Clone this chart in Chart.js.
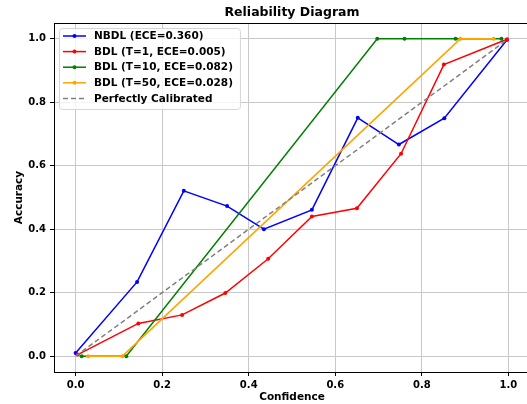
<!DOCTYPE html>
<html>
<head>
<meta charset="utf-8">
<script src="https://cdn.jsdelivr.net/npm/chart.js@4"></script>
<style>
  html, body { margin: 0; padding: 0; background: #fff; overflow: hidden; }
  #wrap { position: relative; width: 534px; height: 404px; }
</style>
</head>
<body>
<div id="wrap"><canvas id="reliabilityChart"></canvas></div>
<script>
// values
const xTicks = [0.0, 0.2, 0.4, 0.6, 0.8, 1.0];
const yTicks = [0.0, 0.2, 0.4, 0.6, 0.8, 1.0];

const nbdlConf = [0.0, 0.142, 0.250, 0.350, 0.435, 0.546, 0.652, 0.747, 0.852, 0.997];
const nbdlAcc = [0.010, 0.234, 0.521, 0.473, 0.400, 0.461, 0.751, 0.667, 0.750, 0.997];

const bdl1Conf = [0.005, 0.145, 0.246, 0.346, 0.445, 0.546, 0.650, 0.752, 0.851, 0.997];
const bdl1Acc = [0.005, 0.103, 0.130, 0.199, 0.307, 0.440, 0.466, 0.638, 0.919, 0.999];

const bdl10Conf = [0.014, 0.117, 0.697, 0.760, 0.878, 0.984];
const bdl10Acc = [0.0, 0.0, 1.0, 1.0, 1.0, 1.0];

const bdl50Conf = [0.029, 0.108, 0.889, 0.966];
const bdl50Acc = [0.0, 0.0, 1.0, 1.0];

const perfectConf = [0.0, 1.0];
const perfectAcc = [0.0, 1.0];

const FONT = "'DejaVu Sans', sans-serif";

function pts(xs, ys) {
  return xs.map((x, i) => ({ x: x, y: ys[i] }));
}

function series(label, xs, ys, color, order) {
  return {
    label: label,
    data: pts(xs, ys),
    borderColor: color,
    backgroundColor: color,
    borderWidth: 1.5,
    pointRadius: 2,
    pointBorderWidth: 0,
    pointBackgroundColor: color,
    fill: false,
    tension: 0,
    order: order,
  };
}

// title, top spine and the in-plot legend, matplotlib style
const decorPlugin = {
  id: "decor",
  afterDraw(chart) {
    const ctx = chart.ctx;
    const area = chart.chartArea;
    ctx.save();

    // top spine
    ctx.strokeStyle = "#000";
    ctx.lineWidth = 1;
    ctx.beginPath();
    ctx.moveTo(area.left, area.top + 0.5);
    ctx.lineTo(area.right, area.top + 0.5);
    ctx.stroke();

    // title
    ctx.fillStyle = "#000";
    ctx.font = "bold 12.5px " + FONT;
    ctx.textAlign = "center";
    ctx.textBaseline = "middle";
    ctx.fillText("Reliability Diagram", (area.left + area.right) / 2, 12.5);

    // legend
    const sets = chart.data.datasets;
    ctx.font = "bold 10.5px " + FONT;
    let maxW = 0;
    sets.forEach(ds => { maxW = Math.max(maxW, ctx.measureText(ds.label).width); });
    const bx = area.left + 5, by = area.top + 5;
    const bw = 36 + maxW + 6, rowH = 15.6, bh = sets.length * rowH + 3;
    ctx.fillStyle = "rgba(255,255,255,0.8)";
    ctx.strokeStyle = "#d6d6d6";
    ctx.lineWidth = 1;
    ctx.beginPath();
    ctx.roundRect(bx + 0.5, by + 0.5, bw, bh, 3);
    ctx.fill();
    ctx.stroke();

    sets.forEach((ds, i) => {
      const cy = by + 8 + i * rowH;
      ctx.strokeStyle = ds.borderColor;
      ctx.lineWidth = ds.borderWidth;
      ctx.setLineDash(ds.borderDash || []);
      ctx.beginPath();
      ctx.moveTo(bx + 4, cy);
      ctx.lineTo(bx + 27, cy);
      ctx.stroke();
      ctx.setLineDash([]);
      if (ds.pointRadius > 0) {
        ctx.fillStyle = ds.borderColor;
        ctx.beginPath();
        ctx.arc(bx + 15.5, cy, 2, 0, Math.PI * 2);
        ctx.fill();
      }
      ctx.fillStyle = "#000";
      ctx.textAlign = "left";
      ctx.fillText(ds.label, bx + 35, cy + 0.5);
    });

    ctx.restore();
  },
};

const tickFont = { family: FONT, size: 10, weight: "bold" };
const titleFont = { family: FONT, size: 10.5, weight: "bold" };

new Chart(document.getElementById("reliabilityChart"), {
  type: "line",
  data: {
    datasets: [
      series("NBDL (ECE=0.360)", nbdlConf, nbdlAcc, "#0000ff", 5),
      series("BDL (T=1, ECE=0.005)", bdl1Conf, bdl1Acc, "#ff0000", 4),
      series("BDL (T=10, ECE=0.082)", bdl10Conf, bdl10Acc, "#008000", 3),
      series("BDL (T=50, ECE=0.028)", bdl50Conf, bdl50Acc, "#ffa500", 2),
      {
        label: "Perfectly Calibrated",
        data: pts(perfectConf, perfectAcc),
        borderColor: "#808080",
        borderWidth: 1.5,
        borderDash: [5, 3],
        pointRadius: 0,
        fill: false,
        order: 1,
      },
    ],
  },
  options: {
    responsive: true,
    maintainAspectRatio: false,
    animation: false,
    layout: { padding: { top: 23, right: 0, left: 0, bottom: 0 } },
    plugins: {
      legend: { display: false },
      title: { display: false },
      tooltip: { enabled: false },
    },
    scales: {
      x: {
        type: "linear",
        min: -0.05,
        max: 1.05,
        afterBuildTicks: (scale) => { scale.ticks = xTicks.map(v => ({ value: v })); },
        afterFit: (scale) => { scale.height = 32; },
        ticks: {
          font: tickFont,
          color: "#000",
          padding: 3,
          maxRotation: 0,
          callback: (v) => v.toFixed(1),
        },
        grid: { color: "#c8c8c8", lineWidth: 1, tickColor: "#000", tickLength: 4 },
        border: { color: "#000", width: 1 },
        title: { display: true, text: "Confidence", font: titleFont, color: "#000", padding: { top: 0, bottom: 0 } },
      },
      y: {
        type: "linear",
        min: -0.05,
        max: 1.05,
        afterBuildTicks: (scale) => { scale.ticks = yTicks.map(v => ({ value: v })); },
        afterFit: (scale) => { scale.width = 54; },
        ticks: {
          font: tickFont,
          color: "#000",
          padding: 4,
          callback: (v) => v.toFixed(1),
        },
        grid: { color: "#c8c8c8", lineWidth: 1, tickColor: "#000", tickLength: 4 },
        border: { color: "#000", width: 1 },
        title: { display: true, text: "Accuracy", font: titleFont, color: "#000", padding: { top: 13, bottom: 0 } },
      },
    },
  },
  plugins: [decorPlugin],
});
</script>
</body>
</html>
